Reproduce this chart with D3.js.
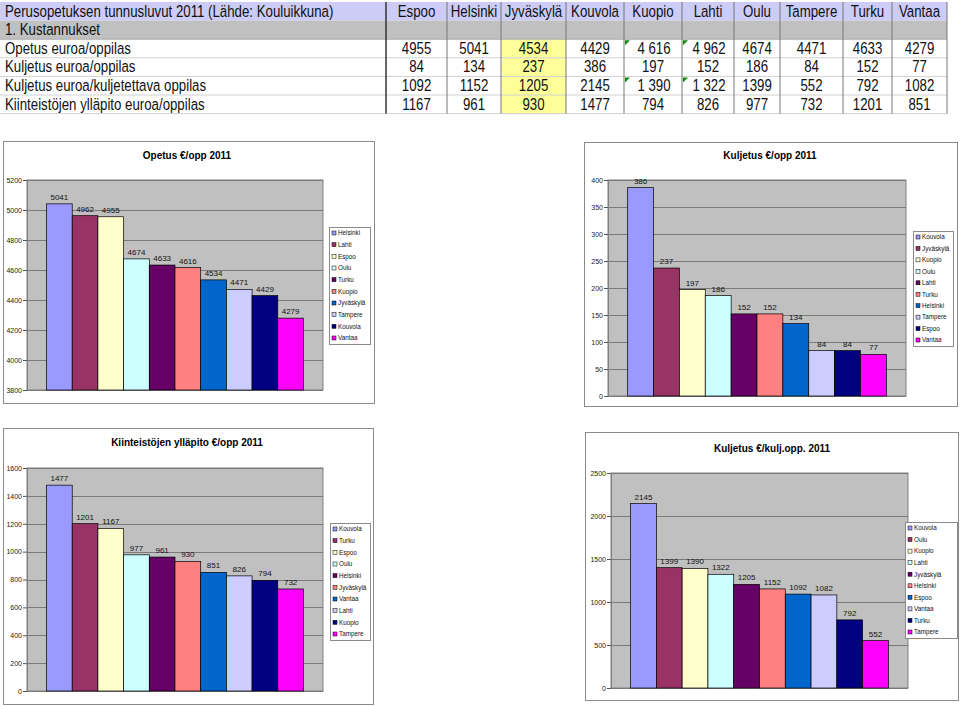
<!DOCTYPE html>
<html><head><meta charset="utf-8">
<script src="https://cdn.jsdelivr.net/npm/d3@7"></script>
<style>
body{margin:0;background:#fff}
svg{display:block;font-family:"Liberation Sans",Arial,sans-serif}
</style>
</head><body>
<svg id="c" width="960" height="706"></svg>
<script>
// ---------- DATA ----------
const tableTitle = "Perusopetuksen tunnusluvut 2011 (Lähde: Kouluikkuna)";
const sectionTitle = "1. Kustannukset";
const cities = ["Espoo","Helsinki","Jyväskylä","Kouvola","Kuopio","Lahti","Oulu","Tampere","Turku","Vantaa"];
const rowLabels = ["Opetus euroa/oppilas","Kuljetus euroa/oppilas","Kuljetus euroa/kuljetettava oppilas","Kiinteistöjen ylläpito euroa/oppilas"];
const opetus       = [4955, 5041, 4534, 4429, 4616, 4962, 4674, 4471, 4633, 4279];
const kuljetus     = [84, 134, 237, 386, 197, 152, 186, 84, 152, 77];
const kuljetusKulj = [1092, 1152, 1205, 2145, 1390, 1322, 1399, 552, 792, 1082];
const kiinteistot  = [1167, 961, 930, 1477, 794, 826, 977, 732, 1201, 851];
const highlightCity = "Jyväskylä";
const textCells = [[0,"Kuopio"],[0,"Lahti"],[2,"Kuopio"],[2,"Lahti"]];

const title1 = "Opetus €/opp 2011";
const order1 = ["Helsinki","Lahti","Espoo","Oulu","Turku","Kuopio","Jyväskylä","Tampere","Kouvola","Vantaa"];
const ticks1 = [3800,4000,4200,4400,4600,4800,5000,5200];

const title2 = "Kuljetus €/opp 2011";
const order2 = ["Kouvola","Jyväskylä","Kuopio","Oulu","Lahti","Turku","Helsinki","Tampere","Espoo","Vantaa"];
const ticks2 = [0,50,100,150,200,250,300,350,400];

const title3 = "Kiinteistöjen ylläpito €/opp 2011";
const order3 = ["Kouvola","Turku","Espoo","Oulu","Helsinki","Jyväskylä","Vantaa","Lahti","Kuopio","Tampere"];
const ticks3 = [0,200,400,600,800,1000,1200,1400,1600];

const title4 = "Kuljetus €/kulj.opp. 2011";
const order4 = ["Kouvola","Oulu","Kuopio","Lahti","Jyväskylä","Helsinki","Espoo","Vantaa","Turku","Tampere"];
const ticks4 = [0,500,1000,1500,2000,2500];

const seriesColors = ["#9999ff","#993366","#ffffcc","#ccffff","#660066","#ff8080","#0066cc","#ccccff","#000080","#ff00ff"];

// ---------- TABLE ----------
const svg = d3.select("#c");
const tableRows = [opetus, kuljetus, kuljetusKulj, kiinteistot];
const colEdges = [386,447,501,566,624,682,734,780,843,892,947];
const rowY = d3.scaleLinear().domain([0,6]).range([2,113.6]);
const sx = 0.78;
const tg = svg.append("g");

function tText(x, y, s, anchor){
  tg.append("text").attr("transform",`translate(${x},${y}) scale(${sx},1)`)
    .attr("text-anchor",anchor||"start").attr("font-size",17).attr("fill","#111").text(s);
}
// backgrounds
tg.append("rect").attr("x",0).attr("y",rowY(0)).attr("width",colEdges[10]).attr("height",rowY(1)-rowY(0)).attr("fill","#ccccf6");
tg.append("rect").attr("x",0).attr("y",rowY(1)).attr("width",colEdges[10]).attr("height",rowY(2)-rowY(1)).attr("fill","#c0c0c0");
const hi = cities.indexOf(highlightCity);
tg.append("rect").attr("x",colEdges[hi]+1).attr("y",rowY(2)).attr("width",colEdges[hi+1]-colEdges[hi]-1).attr("height",rowY(6)-rowY(2)).attr("fill","#ffff99");
// horizontal lines
d3.range(2,7).forEach(r=>{
  tg.append("line").attr("x1",0).attr("x2",colEdges[10]).attr("y1",rowY(r)).attr("y2",rowY(r))
    .attr("stroke", r===2?"#aaa":"#d0d0d0").attr("stroke-width",1);
});
// vertical lines
colEdges.forEach((x,i)=>{
  tg.append("line").attr("x1",x).attr("x2",x).attr("y1",rowY(0)).attr("y2",rowY(6))
    .attr("stroke", i===0?"#333":"#777").attr("stroke-width", i===0?1.5:1);
});
tText(5, rowY(1)-4, tableTitle);
tText(5, rowY(2)-4, sectionTitle);
rowLabels.forEach((l,r)=>tText(5, rowY(r+3)-4, l));
cities.forEach((c,i)=>{
  const cx = (colEdges[i]+colEdges[i+1])/2;
  tText(cx, rowY(1)-4, c, "middle");
  tableRows.forEach((arr,r)=>{
    const spaced = textCells.some(t=>t[0]===r && t[1]===c);
    const s = spaced ? d3.format(",")(arr[i]).replace(",", " ") : String(arr[i]);
    tText(cx+ (spaced?1:0), rowY(r+3)-4, s, "middle");
    if (spaced) {
      const x0 = colEdges[i]+1, y0 = rowY(r+2)+1;
      tg.append("path").attr("d",`M${x0},${y0}L${x0+5},${y0}L${x0},${y0+5}Z`).attr("fill","#118811");
    }
  });
});

// ---------- CHARTS ----------
function barChart(cfg){
  const vals = Object.fromEntries(cities.map((c,i)=>[c, cfg.values[i]]));
  const g = svg.append("g");
  g.append("rect").attr("x",cfg.box[0]+0.5).attr("y",cfg.box[1]+0.5)
    .attr("width",cfg.box[2]-cfg.box[0]).attr("height",cfg.box[3]-cfg.box[1])
    .attr("fill","#fff").attr("stroke","#8a8a8a");
  g.append("text").attr("x",cfg.titlePos[0]).attr("y",cfg.titlePos[1])
    .attr("text-anchor","middle").attr("font-size",10).attr("font-weight","bold").attr("fill","#000").text(cfg.title);
  const [px0,py0,px1,py1] = cfg.plot;
  const y = d3.scaleLinear().domain([cfg.ticks[0], cfg.ticks[cfg.ticks.length-1]]).range([py1,py0]);
  const x = d3.scaleBand().domain(cfg.order).range([px0,px1]).paddingInner(0).paddingOuter(cfg.outer);
  g.append("rect").attr("x",px0).attr("y",py0).attr("width",px1-px0).attr("height",py1-py0)
    .attr("fill","#c0c0c0").attr("stroke","#808080");
  g.selectAll(".grid").data(cfg.ticks).join("line")
    .attr("x1",px0).attr("x2",px1).attr("y1",d=>Math.round(y(d))+0.5).attr("y2",d=>Math.round(y(d))+0.5)
    .attr("stroke","#7a7a7a").attr("stroke-width",1);
  const ax = g.append("g").attr("transform",`translate(${px0},0)`)
    .call(d3.axisLeft(y).tickValues(cfg.ticks).tickSize(4).tickSizeOuter(0).tickPadding(1).tickFormat(d3.format("d")));
  ax.selectAll("text").attr("font-size",7).attr("fill","#222").attr("font-family","Liberation Sans, Arial, sans-serif");
  ax.selectAll("line").attr("stroke","#555");
  ax.select(".domain").attr("stroke","#808080");
  g.selectAll(".bar").data(cfg.order).join("rect")
    .attr("x",d=>x(d)).attr("width",x.bandwidth())
    .attr("y",d=>y(vals[d])).attr("height",d=>y.range()[0]-y(vals[d]))
    .attr("fill",(d,i)=>seriesColors[i]).attr("stroke","#000").attr("stroke-width",0.7);
  g.selectAll(".lbl").data(cfg.order).join("text")
    .attr("x",d=>x(d)+x.bandwidth()/2).attr("y",d=>y(vals[d])-4)
    .attr("text-anchor","middle").attr("font-size",8).attr("fill","#111").text(d=>vals[d]);
  const [lx0,ly0,lx1,ly1] = cfg.legend;
  g.append("rect").attr("x",lx0+0.5).attr("y",ly0+0.5).attr("width",lx1-lx0).attr("height",ly1-ly0)
    .attr("fill","#fff").attr("stroke","#8a8a8a");
  const ly = d3.scalePoint().domain(cfg.order).range([ly0+6, ly1-6]);
  const li = g.selectAll(".li").data(cfg.order).join("g").attr("transform",d=>`translate(${lx0+3},${ly(d)})`);
  li.append("rect").attr("x",0).attr("y",-2).attr("width",4).attr("height",4)
    .attr("fill",(d,i)=>seriesColors[i]).attr("stroke","#000").attr("stroke-width",0.5);
  li.append("text").attr("x",6).attr("y",2.3).attr("font-size",6.3).attr("fill","#111").text(d=>d);
}

barChart({box:[3,141,374,403], title:title1, titlePos:[187,159], plot:[27,180,323,390],
  order:order1, values:opetus, ticks:ticks1, outer:0.76, legend:[329,227,370,344]});
barChart({box:[584,142,957,406], title:title2, titlePos:[770,159], plot:[608,180,906,396],
  order:order2, values:kuljetus, ticks:ticks2, outer:0.76, legend:[913,231,953,346]});
barChart({box:[3,428,373,704], title:title3, titlePos:[187,446], plot:[27,468,323,691],
  order:order3, values:kiinteistot, ticks:ticks3, outer:0.76, legend:[330,523,370,640]});
barChart({box:[585,432,958,700], title:title4, titlePos:[772,452], plot:[611,473,908,688],
  order:order4, values:kuljetusKulj, ticks:ticks4, outer:0.76, legend:[905,522,957,638]});
</script>
</body></html>
